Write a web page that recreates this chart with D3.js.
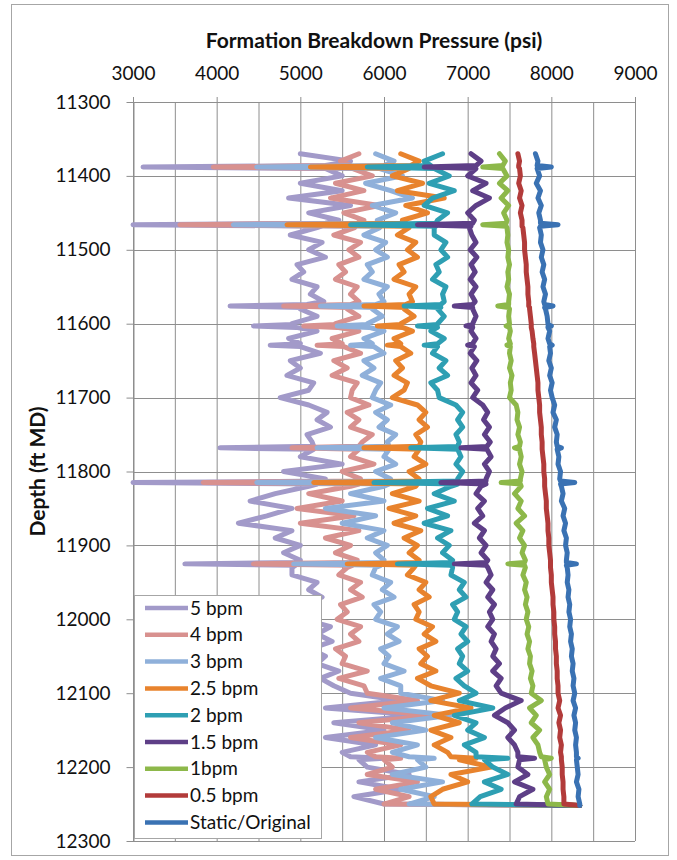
<!DOCTYPE html>
<html lang="en">
<head>
<meta charset="UTF-8">
<title>Formation Breakdown Pressure</title>
<script src="https://d3js.org/d3.v7.min.js"></script>
<style>
body{margin:0;background:#fff;}
svg{display:block;}
text{font-family:Lato,"Open Sans",sans-serif;fill:#111;}
.grid line{stroke:#8e8e8e;stroke-width:1;}
.axis path,.axis line{stroke:#8e8e8e;}
.axis text{font-size:19px;}
.series{fill:none;stroke-width:5;stroke-linejoin:round;stroke-linecap:round;}
</style>
</head>
<body>
<svg id="chart" width="677" height="860"></svg>
<script>
// depth (ft MD) shared by every curve; extra rows around the spikes
const depths = [
  11370, 11380, 11386, 11388, 11390,
  11400, 11410, 11420, 11430, 11440, 11450, 11460,
  11464, 11466, 11468, 11470,
  11480, 11490, 11500, 11510, 11520, 11530, 11540, 11550, 11560, 11570,
  11574, 11576, 11578, 11580, 11590,
  11600, 11601, 11603, 11605, 11610, 11620,
  11627, 11629, 11631,
  11640, 11650, 11660, 11670, 11680, 11690, 11700, 11710, 11720, 11730, 11740, 11750, 11760,
  11766, 11768, 11770,
  11780, 11790, 11800, 11810,
  11813, 11815, 11817, 11820,
  11830, 11840, 11850, 11860, 11870, 11880, 11890, 11900, 11910, 11920,
  11923, 11925, 11927, 11930,
  11940, 11950, 11960, 11970, 11980, 11990, 12000, 12010, 12020, 12030, 12040, 12050, 12060,
  12070, 12080, 12090, 12100, 12110, 12120, 12130, 12140, 12150, 12160, 12170, 12180,
  12186, 12188, 12190,
  12200, 12210, 12220, 12230, 12240, 12250, 12252
];

const bpm5 = [
  5000, 5600, 5300, 3120, 5300,
  5500, 5000, 5500, 4860, 5600, 5100, 5460,
  5300, 3000, 5250, 5200,
  4880, 5260, 5100, 5300, 4960, 5040, 4900, 5200, 5120, 5280,
  5080, 4160, 5060, 5000, 5200,
  4900, 4900, 4440, 4950, 5200, 4860,
  5000, 4640, 5000,
  5240, 4880, 5000, 4840, 5160, 5100, 4760, 5100, 5320, 5200, 5360, 5080, 5140,
  5160, 4040, 5160,
  5000, 5500, 4800, 5300,
  5300, 3000, 5200, 5100,
  4700, 4400, 4900, 4600, 4260, 4900, 4700, 5000, 4800, 5000,
  4960, 3620, 4940, 4900,
  4900, 5200, 5100, 5260, 5000, 5100, 5040, 5360, 5200, 5380, 5120, 5300, 5200,
  5460, 5240, 5400, 5600, 6200, 5300, 6440, 5400, 6000, 5300, 5900, 5500,
  5600, 6000, 5700,
  5800, 6300, 5700, 6200, 5640, 6000, 8340
];

const bpm4 = [
  5700, 5480, 5600, 3960, 5620,
  5860, 5420, 5760, 5360, 5940, 5520, 5760,
  5680, 3560, 5660, 5650,
  5400, 5720, 5580, 5700, 5460, 5540, 5420, 5680, 5600, 5700,
  5600, 4800, 5600, 5560, 5700,
  5420, 5420, 5040, 5440, 5700, 5380,
  5500, 5200, 5520,
  5720, 5400, 5560, 5380, 5680, 5620, 5600, 5820, 5560, 5700, 5600, 5860, 5740,
  5700, 4900, 5700,
  5600, 5880, 5500, 5720,
  5720, 3840, 5700, 5600,
  5100, 5500, 4960, 5640, 5000, 5700, 5300, 5600, 5420, 5680,
  5640, 4440, 5620, 5560,
  5460, 5720, 5600, 5740, 5480, 5560, 5440, 5720, 5600, 5700, 5420, 5540, 5500,
  5800, 5460, 5760, 5800, 6400, 5600, 6600, 5700, 6300, 5600, 6200, 5800,
  5900, 6200, 6000,
  6100, 5800, 6400, 5900, 6300, 6000, 8340
];

const bpm3 = [
  5900, 6120, 6000, 4480, 5950,
  6220, 5780, 6080, 6340, 5860, 6140, 5920,
  5960, 4200, 5960, 5950,
  5760, 6020, 5900, 6040, 5800, 5860, 5760, 6040, 5940, 6000,
  5900, 5240, 5900, 5860, 5980,
  5800, 5800, 5440, 5820, 6000, 5760,
  5860, 5600, 5880,
  6000, 5760, 5880, 5740, 5960, 5900, 5860, 6080, 5900, 6040, 5940, 6140, 6040,
  6060, 5200, 6060,
  6000, 6140, 5900, 6080,
  6080, 4480, 6060, 6000,
  5600, 6000, 5300, 5900, 5500, 6000, 5800, 6040, 5900, 6000,
  5980, 4920, 5960, 5900,
  5860, 6080, 5980, 6120, 5880, 5960, 5900, 6160, 6040, 6180, 5960, 6060, 6000,
  6240, 5960, 6200, 6200, 6700, 6000, 6800, 6100, 6500, 5900, 6400, 6100,
  6300, 6600, 6400,
  6500, 6100, 6700, 6200, 6600, 6300, 8340
];

const bpm25 = [
  6200, 6420, 6320, 5120, 6300,
  6100, 6460, 6160, 6720, 6260, 6520, 6220,
  6260, 4840, 6280, 6300,
  6160, 6380, 6280, 6400, 6180, 6240, 6120, 6380, 6300, 6340,
  6260, 5760, 6260, 6240, 6360,
  6200, 6200, 5920, 6220, 6340, 6120,
  6200, 6040, 6200,
  6320, 6140, 6220, 6120, 6280, 6240, 6100, 6400, 6500, 6420, 6520, 6380, 6440,
  6420, 5760, 6420,
  6360, 6500, 6300, 6420,
  6420, 5160, 6400, 6380,
  6100, 6420, 6060, 6380, 6120, 6440, 6240, 6400, 6300, 6420,
  6400, 5560, 6380, 6360,
  6280, 6500, 6420, 6540, 6360, 6420, 6380, 6580, 6480, 6620, 6420, 6520, 6440,
  6620, 6400, 6560, 6900, 6560, 7040, 6600, 6900, 6560, 6800, 6600, 6760,
  6800, 7100, 6900,
  7280, 6800, 7000, 6700, 6560, 6600, 8340
];

const bpm2 = [
  6700, 6480, 6560, 5800, 6600,
  6780, 6540, 6840, 6580, 6480, 6760, 6640,
  6620, 5600, 6620, 6600,
  6600, 6740, 6680, 6760, 6620, 6660, 6580, 6740, 6700, 6720,
  6680, 6240, 6680, 6640, 6720,
  6640, 6640, 6400, 6640, 6560, 6720,
  6640, 6480, 6640,
  6580, 6740, 6660, 6760, 6560, 6640, 6660, 6860, 6940, 6880, 6940, 6860, 6900,
  6880, 6320, 6880,
  6920, 6860, 6940, 6880,
  6880, 5880, 6880, 6800,
  6600, 6840, 6520, 6760, 6480, 6800, 6640, 6780, 6700, 6820,
  6800, 6160, 6800, 6820,
  6800, 6960, 6900, 6980, 6820, 6880, 6840, 6980, 6920, 7000, 6880, 6940, 6900,
  7000, 6860, 6960, 7100, 6900, 7300, 6840, 7100, 7000, 7200, 6960, 7100,
  7100, 7480, 7200,
  7300, 7480, 7200, 7400, 7150, 7050, 8340
];

const bpm15 = [
  7040, 7160, 7100, 6480, 7100,
  7000, 7220, 7060, 7260, 7100, 7000, 7080,
  7060, 6400, 7040, 7020,
  7050, 7100, 7030, 7110, 7040, 7090, 7030, 7100, 7040, 7090,
  7060, 6840, 7060, 7060, 7100,
  7060, 7060, 6980, 7060, 7040, 7100,
  7060, 7000, 7080,
  7030, 7110, 7050, 7100, 7040, 7120, 7060, 7180, 7240, 7190, 7260, 7200, 7270,
  7230, 6920, 7230,
  7280, 7200, 7260, 7220,
  7220, 6680, 7220, 7160,
  7100, 7200, 7120, 7180, 7080, 7200, 7140, 7220, 7160, 7240,
  7220, 6840, 7220, 7240,
  7280, 7220, 7300, 7240, 7320, 7260, 7300, 7240, 7320, 7280, 7340, 7300, 7380,
  7300, 7400, 7340, 7400, 7640, 7450, 7320, 7480, 7560, 7480, 7560, 7600,
  7600, 7800, 7620,
  7600, 7720, 7560, 7780, 7620, 7580, 8340
];

const bpm1 = [
  7380, 7450, 7420, 7180, 7420,
  7470, 7380, 7480, 7400, 7490, 7430, 7470,
  7460, 7180, 7460, 7470,
  7480, 7470, 7490, 7480, 7500, 7480, 7490, 7470, 7500, 7490,
  7490, 7360, 7490, 7500, 7490,
  7500, 7500, 7460, 7500, 7510, 7490,
  7510, 7470, 7510,
  7500, 7520, 7500, 7530, 7510, 7520, 7500, 7580, 7600, 7590, 7620, 7600, 7630,
  7620, 7560, 7620,
  7640, 7620, 7650, 7630,
  7630, 7400, 7630, 7640,
  7560, 7640, 7600, 7680, 7580, 7660, 7620, 7680, 7650, 7690,
  7680, 7480, 7680, 7690,
  7660, 7700, 7680, 7710, 7690, 7720, 7700, 7730, 7710, 7740, 7720, 7750, 7740,
  7770, 7750, 7780, 7760, 7880, 7740, 7820, 7760, 7860, 7780, 7840, 7860,
  7880, 8000, 7920,
  7940, 7980, 7920, 7980, 7940, 7960, 8340
];

const bpm05 = [
  7600, 7620, 7610, 7610, 7620,
  7630, 7610, 7640, 7620, 7650, 7630, 7650,
  7650, 7650, 7650, 7660,
  7670, 7680, 7680, 7690, 7700, 7700, 7710, 7720, 7720, 7730,
  7730, 7730, 7740, 7740, 7750,
  7760, 7760, 7760, 7760, 7770, 7780,
  7790, 7790, 7790,
  7800, 7810, 7820, 7830, 7840, 7840, 7850, 7860, 7860, 7870, 7880, 7880, 7890,
  7890, 7890, 7890,
  7900, 7910, 7910, 7920,
  7920, 7920, 7920, 7920,
  7930, 7940, 7940, 7950, 7960, 7960, 7970, 7970, 7980, 7990,
  7990, 7990, 7990, 7990,
  8000, 8000, 8010, 8020, 8020, 8030, 8030, 8040, 8040, 8050, 8050, 8060, 8060,
  8070, 8070, 8080, 8080, 8100, 8080, 8110, 8090, 8110, 8100, 8120, 8110,
  8120, 8120, 8120,
  8130, 8130, 8140, 8140, 8150, 8150, 8340
];

const staticOriginal = [
  7810, 7840, 7830, 8000, 7830,
  7860, 7820, 7870, 7840, 7880, 7850, 7870,
  7870, 8080, 7870, 7860,
  7880, 7870, 7900, 7880, 7910, 7890, 7920, 7900, 7930, 7910,
  7920, 8020, 7920, 7930, 7950,
  7960, 7960, 8000, 7960, 7980, 7960,
  7980, 8010, 7980,
  7990, 7970, 8000, 7980, 8010, 7990, 8010, 8040, 8020, 8060, 8040, 8070, 8060,
  8070, 8120, 8070,
  8090, 8080, 8110, 8100,
  8110, 8280, 8110, 8120,
  8140, 8120, 8160, 8140, 8170, 8150, 8180, 8170, 8190, 8180,
  8180, 8300, 8180, 8190,
  8200, 8190, 8210, 8200, 8220, 8210, 8230, 8220, 8240, 8230, 8250, 8240, 8260,
  8250, 8270, 8260, 8280, 8260, 8290, 8270, 8290, 8280, 8300, 8290, 8300,
  8300, 8320, 8300,
  8310, 8320, 8300, 8330, 8320, 8340, 8340
];

const seriesNames = ["5 bpm", "4 bpm", "3 bpm", "2.5 bpm", "2 bpm", "1.5 bpm", "1bpm", "0.5 bpm", "Static/Original"];
const seriesValues = [bpm5, bpm4, bpm3, bpm25, bpm2, bpm15, bpm1, bpm05, staticOriginal];
const palette = ["#a29ac9", "#d8918f", "#8fb0da", "#e8832d", "#2e9fb3", "#5e3f87", "#8db84a", "#b23b3a", "#3a72b3"];

const xTicks = [3000, 4000, 5000, 6000, 7000, 8000, 9000];
const yTicks = [11300, 11400, 11500, 11600, 11700, 11800, 11900, 12000, 12100, 12200, 12300];

const svg = d3.select("#chart");
const plot = {left: 133, right: 635, top: 102, bottom: 841};

const x = d3.scaleLinear().domain([3000, 9000]).range([plot.left, plot.right]);
const y = d3.scaleLinear().domain([11300, 12300]).range([plot.top, plot.bottom]);

// outer frame
svg.append("rect")
    .attr("x", 11.5).attr("y", 4.5)
    .attr("width", 657).attr("height", 851)
    .attr("fill", "#fff").attr("stroke", "#a6a6a6");

// grid
const grid = svg.append("g").attr("class", "grid");
grid.selectAll(".v").data(d3.range(3000, 9001, 500)).join("line")
    .attr("x1", d => x(d) + 0.5).attr("x2", d => x(d) + 0.5)
    .attr("y1", plot.top).attr("y2", plot.bottom);
grid.selectAll(".h").data(yTicks).join("line")
    .attr("x1", plot.left).attr("x2", plot.right)
    .attr("y1", d => Math.round(y(d)) + 0.5).attr("y2", d => Math.round(y(d)) + 0.5);

// axes
svg.append("g").attr("class", "axis")
    .attr("transform", `translate(0,${plot.top})`)
    .call(d3.axisTop(x).tickValues(xTicks).tickSize(5).tickSizeOuter(0).tickPadding(17).tickFormat(d3.format("d")))
    .call(g => g.select(".domain").remove());

svg.append("g").attr("class", "axis")
    .attr("transform", `translate(${plot.left + 0.5},0)`)
    .call(d3.axisLeft(y).tickValues(yTicks).tickSize(7).tickSizeOuter(0).tickPadding(16).tickFormat(d3.format("d")));

// curves, highest rate first so the static curve sits on top
const line = d3.line().x(d => x(d.v)).y(d => y(d.d));
seriesValues.forEach((vals, i) => {
    if (vals.length !== depths.length) console.error(seriesNames[i], vals.length, depths.length);
    svg.append("path")
        .attr("class", "series")
        .attr("stroke", palette[i])
        .attr("d", line(depths.map((d, j) => ({d: d, v: vals[j]}))));
});

// titles
svg.append("text")
    .attr("x", 374).attr("y", 48)
    .attr("text-anchor", "middle")
    .style("font-size", "21px").style("font-weight", "bold")
    .text("Formation Breakdown Pressure (psi)");

svg.append("text")
    .attr("transform", `translate(45,${(plot.top + plot.bottom) / 2}) rotate(-90)`)
    .attr("text-anchor", "middle")
    .style("font-size", "21px").style("font-weight", "bold")
    .text("Depth (ft MD)");

// legend
const legend = svg.append("g").attr("transform", "translate(134,595)");
legend.append("rect")
    .attr("x", 0.5).attr("y", 0.5).attr("width", 187).attr("height", 243)
    .attr("fill", "#fff").attr("stroke", "#a6a6a6");
const item = legend.selectAll(".item").data(seriesNames).join("g")
    .attr("transform", (d, i) => `translate(0,${13 + i * 26.8})`);
item.append("line")
    .attr("x1", 11).attr("x2", 54)
    .attr("stroke", (d, i) => palette[i]).attr("stroke-width", 4.5);
item.append("text")
    .attr("x", 56).attr("dy", "0.35em")
    .style("font-size", "19px")
    .text(d => d);
</script>
</body>
</html>
